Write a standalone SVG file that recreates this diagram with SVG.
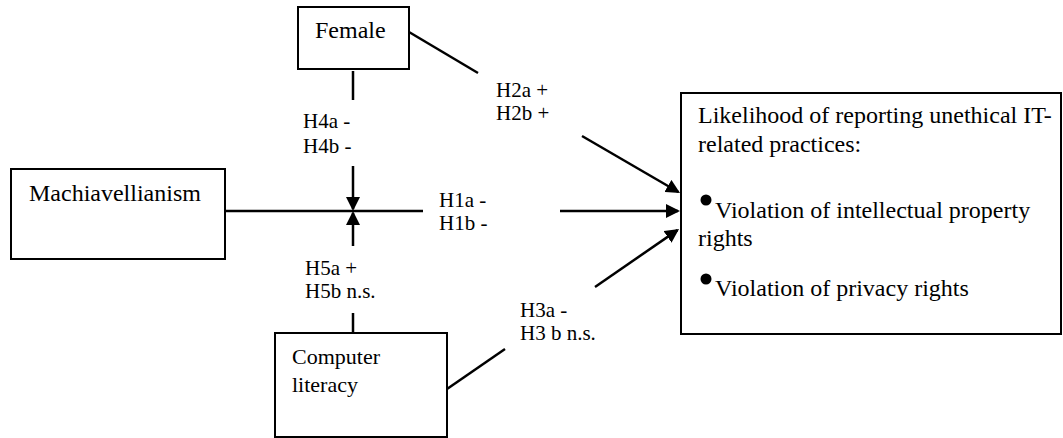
<svg xmlns="http://www.w3.org/2000/svg" width="1063" height="438" viewBox="0 0 1063 438">
<style>
.box{fill:#fff;stroke:#000;stroke-width:2}
.t{font-family:'Liberation Serif','Times New Roman','DejaVu Serif',serif;fill:#000}
.n{font-size:24px}
.l{font-size:21px}
.c{stroke:#000;stroke-width:2.5;fill:none}
</style>
<defs>
<marker id="ah" markerUnits="userSpaceOnUse" markerWidth="16" markerHeight="14" refX="12" refY="7" orient="auto">
<path d="M0,0 L14,7 L0,14 z" fill="#000"/>
</marker>
</defs>
<rect width="1063" height="438" fill="#fff"/>
<g id="connectors">
<line class="c" x1="353" y1="71" x2="353" y2="100"/>
<line class="c" x1="353" y1="166" x2="353" y2="209" marker-end="url(#ah)"/>
<line class="c" x1="353" y1="333" x2="353" y2="313"/>
<line class="c" x1="353" y1="246" x2="353" y2="213" marker-end="url(#ah)"/>
<line class="c" x1="225" y1="211" x2="423" y2="211"/>
<line class="c" x1="560" y1="211" x2="678" y2="211" marker-end="url(#ah)"/>
<line class="c" x1="409" y1="32" x2="478" y2="73"/>
<line class="c" x1="582" y1="136" x2="678.3" y2="192" marker-end="url(#ah)"/>
<line class="c" x1="447" y1="389" x2="505" y2="349"/>
<line class="c" x1="595" y1="287" x2="677.4" y2="230.1" marker-end="url(#ah)"/>
<text class="t l" font-family="Liberation Serif, serif" x="303" y="128">H4a -</text>
<text class="t l" font-family="Liberation Serif, serif" x="303" y="153">H4b -</text>
<text class="t l" font-family="Liberation Serif, serif" x="439" y="207">H1a -</text>
<text class="t l" font-family="Liberation Serif, serif" x="439" y="230">H1b -</text>
<text class="t l" font-family="Liberation Serif, serif" x="496" y="97">H2a +</text>
<text class="t l" font-family="Liberation Serif, serif" x="496" y="120">H2b +</text>
<text class="t l" font-family="Liberation Serif, serif" x="305" y="275">H5a +</text>
<text class="t l" font-family="Liberation Serif, serif" x="305" y="298">H5b n.s.</text>
<text class="t l" font-family="Liberation Serif, serif" x="520" y="317">H3a -</text>
<text class="t l" font-family="Liberation Serif, serif" x="520" y="340">H3 b n.s.</text>
</g>
<g id="female">
<rect class="box" x="298" y="7" width="111" height="62"/>
<text class="t n" x="315" y="38">Female</text>
</g>
<g id="machiavellianism">
<rect class="box" x="11" y="169" width="214" height="90"/>
<text class="t n" x="29" y="201">Machiavellianism</text>
</g>
<g id="computer-literacy">
<rect class="box" x="275" y="333" width="172" height="104"/>
<text class="t" font-size="22" x="292" y="364">Computer</text>
<text class="t" font-size="22" x="292" y="392">literacy</text>
</g>
<g id="outcome">
<rect class="box" x="681" y="93" width="380" height="241"/>
<text class="t n" x="698" y="123">Likelihood of reporting unethical IT-</text>
<text class="t n" x="698" y="152">related practices:</text>
<circle cx="706" cy="200" r="5.5"/>
<text class="t n" x="715" y="218">Violation of intellectual property</text>
<text class="t n" x="698" y="246">rights</text>
<circle cx="706" cy="279" r="5.5"/>
<text class="t n" x="715" y="296">Violation of privacy rights</text>
</g>
</svg>
